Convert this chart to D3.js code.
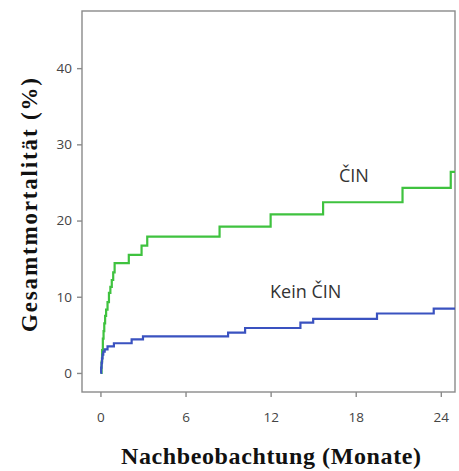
<!DOCTYPE html>
<html>
<head>
<meta charset="utf-8">
<script src="https://cdn.jsdelivr.net/npm/d3@7"></script>
<style>
  body { margin: 0; background: #fff; }
  svg { display: block; }
</style>
</head>
<body>
<div id="chart"></div>
<script>
// Kaplan-Meier style step data
const cinMonths = [0, 0.08, 0.12, 0.17, 0.22, 0.27, 0.33, 0.4, 0.5, 0.6, 0.7, 0.8, 0.9, 1.0, 2.0, 2.9, 3.3, 8.4, 12.0, 15.7, 21.3, 24.7, 25]
const cinValues = [0, 1.5, 3, 4.5, 5.5, 6.5, 7.5, 8.3, 9.3, 10.5, 11.3, 12.2, 13.2, 14.4, 15.5, 16.7, 17.9, 19.2, 20.8, 22.4, 24.3, 26.4, 26.4]

const keinMonths = [0, 0.05, 0.08, 0.11, 0.15, 0.2, 0.3, 0.5, 0.95, 2.2, 3.0, 9.0, 10.2, 14.1, 15.0, 19.5, 23.5, 25]
const keinValues = [0, 0.7, 1.3, 1.9, 2.4, 2.8, 3.1, 3.5, 3.9, 4.4, 4.8, 5.3, 5.9, 6.6, 7.1, 7.8, 8.45, 8.45]

const xTicks = [0, 6, 12, 18, 24]
const yTicks = [0, 10, 20, 30, 40]

const seriesNames = ["ČIN", "Kein ČIN"]
const xTitle = "Nachbeobachtung (Monate)"
const yTitle = "Gesamtmortalität (%)"

const width = 459
const height = 471

const svg = d3.select("#chart").append("svg")
  .attr("width", width)
  .attr("height", height)

const x = d3.scaleLinear().domain([-1.3, 25]).range([82, 455])
const y = d3.scaleLinear().domain([-2.5, 47.5]).range([392, 11])

const frameColor = "#8a8a8a"
const tickFont = "'Open Sans', 'Noto Sans', sans-serif"
const titleFont = "'Liberation Serif', 'Times New Roman', serif"

// box around plot
svg.append("rect")
  .attr("x", x.range()[0])
  .attr("y", y.range()[1])
  .attr("width", x.range()[1] - x.range()[0])
  .attr("height", y.range()[0] - y.range()[1])
  .attr("fill", "none")
  .attr("stroke", frameColor)
  .attr("stroke-width", 1.4)

// axes
const xAxis = svg.append("g")
  .attr("transform", `translate(0, ${y.range()[0]})`)
  .call(d3.axisBottom(x).tickValues(xTicks).tickSize(5).tickPadding(15))
const yAxis = svg.append("g")
  .attr("transform", `translate(${x.range()[0]}, 0)`)
  .call(d3.axisLeft(y).tickValues(yTicks).tickSize(5).tickPadding(5))

;[xAxis, yAxis].forEach(g => {
  g.select(".domain").remove()
  g.selectAll(".tick line").attr("stroke", frameColor).attr("stroke-width", 1.4)
  g.selectAll(".tick text")
    .attr("fill", "#444")
    .style("font-family", tickFont)
    .style("font-size", "13.5px")
})

// step lines
const line = d3.line()
  .x(d => x(d[0]))
  .y(d => y(d[1]))
  .curve(d3.curveStepAfter)

const series = [
  { months: cinMonths, values: cinValues, color: "#3fc23f" },
  { months: keinMonths, values: keinValues, color: "#3a52c0" },
]

series.forEach(s => {
  svg.append("path")
    .datum(d3.zip(s.months, s.values))
    .attr("d", line)
    .attr("fill", "none")
    .attr("stroke", s.color)
    .attr("stroke-width", 2.2)
})

// series labels
svg.append("text")
  .attr("x", 339).attr("y", 182)
  .text(seriesNames[0])
  .attr("fill", "#333")
  .style("font-family", tickFont)
  .style("font-size", "18px")

svg.append("text")
  .attr("x", 270).attr("y", 298)
  .text(seriesNames[1])
  .attr("fill", "#333")
  .style("font-family", tickFont)
  .style("font-size", "18px")

// axis titles
svg.append("text")
  .attr("x", 121).attr("y", 464)
  .attr("textLength", 300)
  .attr("lengthAdjust", "spacing")
  .text(xTitle)
  .attr("fill", "#111")
  .style("font-family", titleFont)
  .style("font-weight", "bold")
  .style("font-size", "24px")

svg.append("text")
  .attr("transform", "translate(37, 332) rotate(-90)")
  .attr("textLength", 254)
  .attr("lengthAdjust", "spacing")
  .text(yTitle)
  .attr("fill", "#111")
  .style("font-family", titleFont)
  .style("font-weight", "bold")
  .style("font-size", "23px")
</script>
</body>
</html>
